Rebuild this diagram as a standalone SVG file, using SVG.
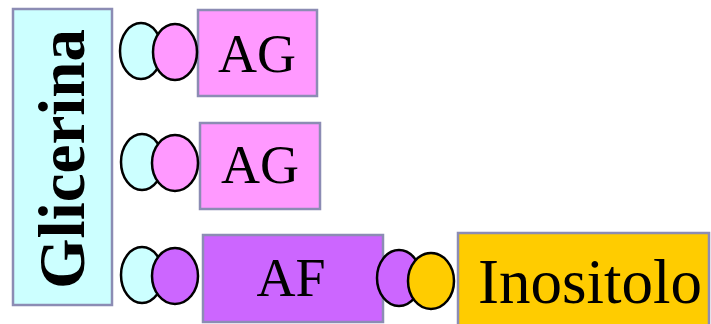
<svg xmlns="http://www.w3.org/2000/svg" width="711" height="324" viewBox="0 0 711 324">
<style>
.box{stroke:#8c8cb4;stroke-width:2.5}
.ov{stroke:#000;stroke-width:2.5}
.t{font-family:"Liberation Serif",serif;fill:#000;text-anchor:middle}
.cy{fill:#ccffff}.pk{fill:#ff99ff}.pu{fill:#cc66ff}.ye{fill:#ffcc00}
</style>
<g id="glicerina">
<rect class="box cy" x="13" y="9" width="99" height="296"/>
<text class="t" font-size="65" font-weight="bold" transform="translate(84,159) rotate(-90)">Glicerina</text>
</g>
<g id="ag1">
<rect class="box pk" x="198" y="10" width="119" height="86"/>
<text class="t" font-size="54" x="257" y="72">AG</text>
</g>
<g id="ag2">
<rect class="box pk" x="200" y="123" width="120" height="86"/>
<text class="t" font-size="54" x="260" y="183">AG</text>
</g>
<g id="af">
<rect class="box pu" x="203" y="235" width="180" height="87"/>
<text class="t" font-size="54" x="291" y="296">AF</text>
</g>
<g id="inositolo">
<rect class="box ye" x="458" y="233" width="251" height="100"/>
<text class="t" font-size="63" x="590" y="303">Inositolo</text>
</g>
<g id="connectors">
<ellipse class="ov cy" cx="141" cy="51" rx="21" ry="28"/>
<ellipse class="ov pk" cx="175" cy="52" rx="22" ry="28"/>
<ellipse class="ov cy" cx="142" cy="162" rx="21" ry="28"/>
<ellipse class="ov pk" cx="175" cy="163" rx="23" ry="28"/>
<ellipse class="ov cy" cx="142" cy="275" rx="21" ry="28"/>
<ellipse class="ov pu" cx="175" cy="276" rx="23" ry="28"/>
<ellipse class="ov pu" cx="399" cy="278" rx="22" ry="28"/>
<ellipse class="ov ye" cx="431" cy="281" rx="23" ry="28"/>
</g>
</svg>
